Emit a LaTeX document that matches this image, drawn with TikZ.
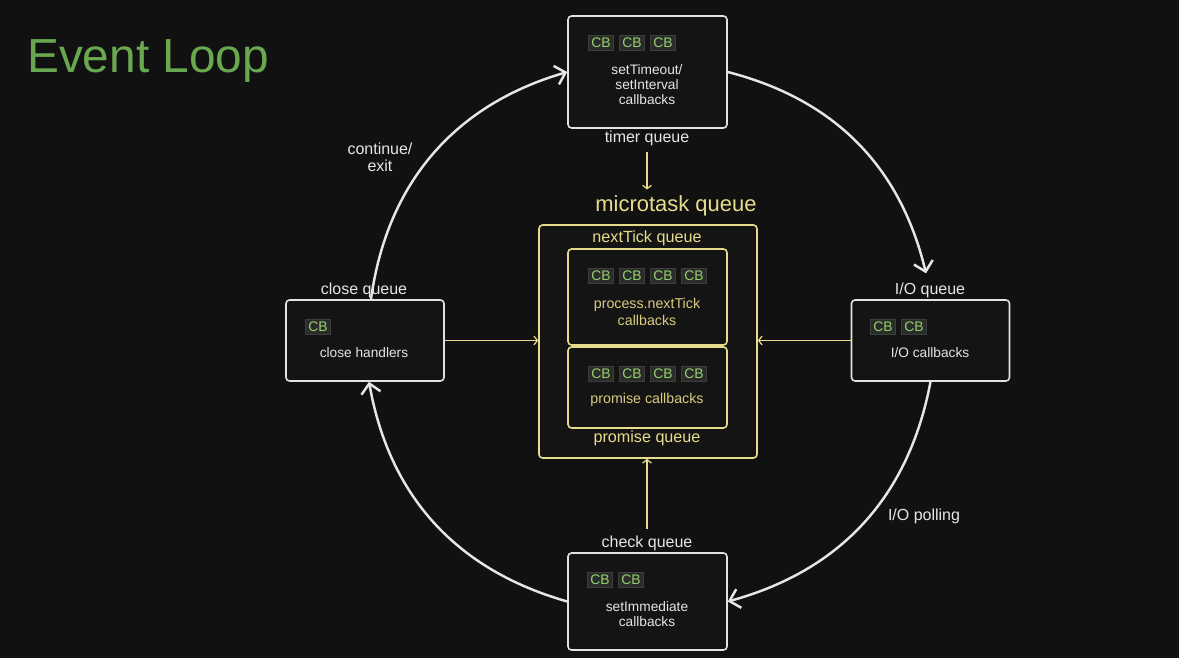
\documentclass[tikz,border=0pt]{standalone}
\usepackage{fontspec}
\setmainfont{Liberation Sans}
\usetikzlibrary{arrows.meta}
\definecolor{bg}{HTML}{111111}
\definecolor{boxfill}{HTML}{141414}
\definecolor{boxline}{HTML}{E2E2E2}
\definecolor{txt}{HTML}{E6E6E6}
\definecolor{ylw}{HTML}{E6DC8C}
\definecolor{ytxt}{HTML}{D9CD80}
\definecolor{chip}{HTML}{2A2C2A}
\definecolor{chipline}{HTML}{3C3E3C}
\definecolor{cbgreen}{HTML}{96D06E}
\definecolor{title}{HTML}{6AA84F}

\begin{document}
\begin{tikzpicture}[x=0.02cm,y=-0.02cm,
  qbox/.style={draw=boxline,fill=boxfill,rounded corners=2pt,line width=0.9pt,minimum width=3.18cm},
  ybox/.style={draw=ylw,fill=boxfill,rounded corners=2pt,line width=0.9pt,minimum width=3.18cm},
  cb/.style={draw=chipline,fill=chip,text=cbgreen,inner sep=0pt,minimum width=0.5cm,minimum height=0.3cm,font=\fontsize{7.9}{8}\selectfont},
  qlabel/.style={text=txt,font=\fontsize{9.1}{9.6}\selectfont},
  ylabel/.style={text=ylw,font=\fontsize{9.2}{10}\selectfont},
  inner/.style={text=txt,align=center,font=\fontsize{7.8}{8.5}\selectfont},
  yinner/.style={text=ytxt,align=center,font=\fontsize{8.1}{9.6}\selectfont},
  looparc/.style={draw=txt,line width=1.4pt,-{Straight Barb[length=5.5pt,width=11pt]}},
  yarrow/.style={draw=ylw,line width=0.7pt,-{Straight Barb[length=2pt,width=5pt]}}]

\fill[bg] (0,0) rectangle (1179,658);
\node[anchor=base west,text=title,font=\fontsize{27.2}{30}\selectfont] (title) at (21,73) {Event Loop};

% timer queue
\node[qbox,minimum height=2.24cm] (timer) at (647.5,72) {};
\foreach \i in {0,1,2} \node[cb] (tcb\i) at ({601+31*\i},43) {CB};
\node[inner] (ttext) at (647,85) {setTimeout/\\setInterval\\callbacks};
\node[qlabel] (timerq) at (647,138) {timer queue};

% microtask queue
\node[ybox,minimum width=4.36cm,minimum height=4.66cm] (micro) at (648,341.5) {};
\node[text=ylw,font=\fontsize{12.5}{14}\selectfont] (mtq) at (676,206) {microtask queue};
\node[ylabel] (tickq) at (647,238) {nextTick queue};
\node[ybox,minimum height=1.92cm] (tick) at (647.5,297) {};
\foreach \i in {0,1,2,3} \node[cb] (kcb\i) at ({601+31*\i},276) {CB};
\node[yinner] (ktext) at (647,312) {process.nextTick\\callbacks};
\node[ybox,minimum height=1.62cm] (prom) at (647.5,387.5) {};
\foreach \i in {0,1,2,3} \node[cb] (pcb\i) at ({601+31*\i},374) {CB};
\node[yinner] (ptext) at (647,400) {promise callbacks};
\node[ylabel] (promq) at (647,438) {promise queue};

% close queue
\node[qbox,minimum width=3.16cm,minimum height=1.62cm] (close) at (365,340.5) {};
\node[cb] (ccb) at (318,327) {CB};
\node[inner] (ctext) at (364,353) {close handlers};
\node[qlabel] (closeq) at (364,290) {close queue};

% I/O queue
\node[qbox,minimum width=3.16cm,minimum height=1.62cm] (io) at (930.5,340.5) {};
\foreach \i in {0,1} \node[cb] (icb\i) at ({883+31*\i},327) {CB};
\node[inner] (itext) at (930,353) {I/O callbacks};
\node[qlabel] (ioq) at (930,290) {I/O queue};

% check queue
\node[qbox,minimum height=1.94cm] (check) at (647.5,601.5) {};
\foreach \i in {0,1} \node[cb] (hcb\i) at ({600+31*\i},580) {CB};
\node[inner] (htext) at (647,614.5) {setImmediate\\callbacks};
\node[qlabel] (checkq) at (647,543) {check queue};

% the loop
\draw[looparc] ([xshift=0.12cm]close.north) to[bend left=33] (timer.west);
\draw[looparc] (timer.east) to[bend left=31] ([xshift=-0.08cm,yshift=0.06cm]ioq.north);
\draw[looparc] (io.south) to[bend left=32] (check.east);
\draw[looparc] (check.west) to[bend left=32] ([xshift=0.08cm]close.south);
\node[qlabel,align=center] (exitl) at (380,157) {continue/\\exit};
\node[qlabel] (polll) at (924,516) {I/O polling};

\draw[yarrow] (timerq.south) -- (timerq.south |- mtq.north);
\draw[yarrow] (close.east) -- (close.east -| micro.west);
\draw[yarrow] (io.west) -- (io.west -| micro.east);
\draw[yarrow] (checkq.north) -- (checkq.north |- micro.south);
\end{tikzpicture}
\end{document}
